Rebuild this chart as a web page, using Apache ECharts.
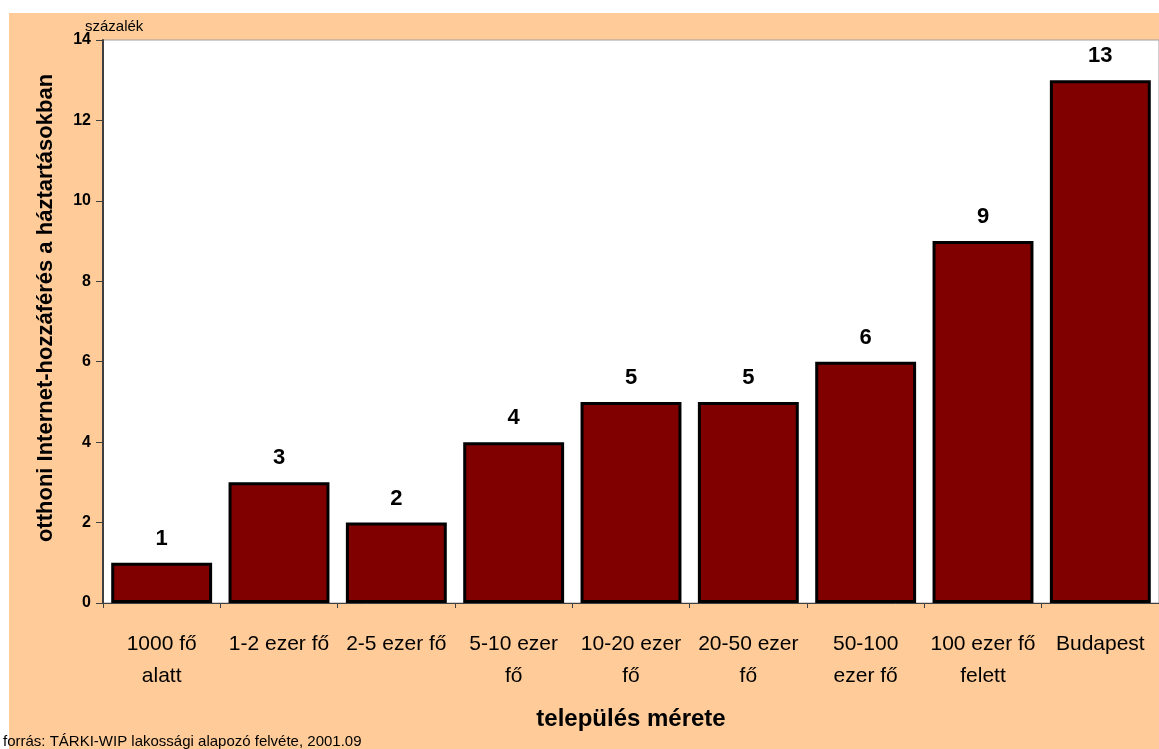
<!DOCTYPE html>
<html>
<head>
<meta charset="utf-8">
<script src="https://cdn.jsdelivr.net/npm/echarts@6/dist/echarts.min.js"></script>
<style>
  html, body { margin: 0; padding: 0; background: #fff; }
  #chart { width: 1159px; height: 749px; }
</style>
</head>
<body>
<div id="chart"></div>
<script>
// település mérete szerinti otthoni internet-hozzáférés (%)
var categories = ['1000 fő\nalatt', '1-2 ezer fő', '2-5 ezer fő', '5-10 ezer\nfő', '10-20 ezer\nfő',
  '20-50 ezer\nfő', '50-100\nezer fő', '100 ezer fő\nfelett', 'Budapest'];
var values = [1, 3, 2, 4, 5, 5, 6, 9, 13];
var yTicks = { min: 0, max: 14, interval: 2 };

var font = '"Liberation Sans", Arial, sans-serif';
var chart = echarts.init(document.getElementById('chart'));

var option = {
  animation: false,
  backgroundColor: '#fff',
  textStyle: { fontFamily: font },
  graphic: [
    {
      type: 'rect', z: -10, silent: true,
      shape: { x: 9, y: 13, width: 1200, height: 800 },
      style: { fill: '#FFCC99' }
    },
    {
      type: 'text', left: 85, top: 19,
      style: { text: 'százalék', font: '15px ' + font, fill: '#000' }
    },
    {
      type: 'text', left: 3, top: 734,
      style: { text: 'forrás: TÁRKI-WIP lakossági alapozó felvéte, 2001.09', font: '15px ' + font, fill: '#000' }
    },
    {
      type: 'text', x: 46, y: 308, rotation: Math.PI / 2,
      style: {
        text: 'otthoni Internet-hozzáférés a háztartásokban',
        font: 'bold 22px ' + font, fill: '#000',
        align: 'center', verticalAlign: 'middle'
      }
    }
  ],
  grid: {
    left: 103, top: 40, right: -2, bottom: 146,
    show: true, backgroundColor: '#fff', borderColor: '#a0a0a0', borderWidth: 1
  },
  xAxis: {
    type: 'category',
    data: categories,
    name: 'település mérete',
    nameLocation: 'middle',
    nameGap: 104,
    nameTextStyle: { fontSize: 24, fontWeight: 'bold', color: '#000', fontFamily: font },
    axisLine: { lineStyle: { color: '#404040', width: 1 } },
    axisTick: { show: true, length: 5, alignWithLabel: false, lineStyle: { color: '#404040' } },
    axisLabel: {
      color: '#000', fontSize: 21, lineHeight: 32, margin: 25,
      fontFamily: font, interval: 0
    }
  },
  yAxis: {
    type: 'value',
    min: yTicks.min, max: yTicks.max, interval: yTicks.interval,
    splitLine: { show: false },
    axisLine: { show: true, lineStyle: { color: '#404040', width: 2 } },
    axisTick: { show: true, length: 7, lineStyle: { color: '#404040' } },
    axisLabel: { color: '#000', fontSize: 16, fontWeight: 'bold', margin: 12, fontFamily: font }
  },
  series: [
    {
      type: 'bar',
      data: values,
      barCategoryGap: '14%',
      itemStyle: { color: '#800000', borderColor: '#000', borderWidth: 3 },
      label: {
        show: true, position: 'top', distance: 13,
        color: '#000', fontSize: 22, fontWeight: 'bold', fontFamily: font
      }
    }
  ]
};
chart.setOption(option);
</script>
</body>
</html>
